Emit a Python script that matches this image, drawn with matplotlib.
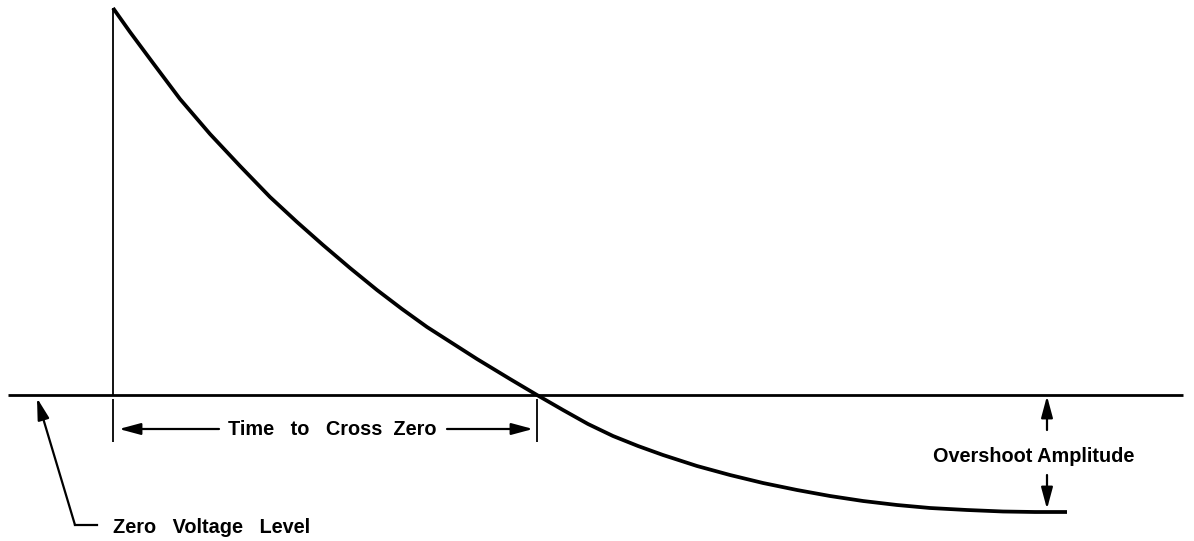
import matplotlib
matplotlib.use("Agg")
import matplotlib.pyplot as plt

# ===== DATA (time, voltage in drawing units; zero level = 0) =====
t_rise = 113
v_peak = 387
decay_t = [113, 130, 153, 180, 210, 240, 270, 297, 323, 350, 377, 402, 427, 452,
           477, 510, 537, 563, 588, 613, 638, 663, 697, 730, 763, 797, 830, 863,
           897, 930, 967, 1003, 1035, 1067]
decay_v = [387, 363, 332, 296, 261, 229, 198, 173, 150, 127, 105, 86, 68, 52,
           36, 16, 0, -15, -29, -41, -51, -60, -71, -80, -88, -95, -101, -106,
           -110, -113, -115, -116.5, -117, -117]
t_cross = 537
overshoot_t = 1047
overshoot_v = -116
zero_start, zero_end = 8, 1183

LBL_CROSS = "Time   to   Cross  Zero"
LBL_OVER = "Overshoot Amplitude"
LBL_ZERO = "Zero   Voltage   Level"

# ===== FIGURE =====
fig = plt.figure(figsize=(11.94, 5.41), dpi=100)
ax = fig.add_axes([0, 0, 1, 1])
ax.set_xlim(0, 1194)
ax.set_ylim(395 - 541, 395)
ax.axis("off")

fnt = dict(fontsize=14.3, fontweight="bold", family="Liberation Sans", color="black")
arr = dict(arrowstyle="-|>,head_length=1.3,head_width=0.35", color="black",
           lw=1.6, shrinkA=0, shrinkB=0)

# zero level and pulse
ax.plot([zero_start, zero_end], [0, 0], color="black", lw=2.0, solid_capstyle="butt")
ax.vlines(t_rise, 0, v_peak, color="black", lw=1.3)
ax.plot(decay_t, decay_v, color="black", lw=2.7, solid_joinstyle="round",
        solid_capstyle="butt")

# time to cross zero
ax.vlines([t_rise, t_cross], -4, -47, color="black", lw=1.3)
y_arr = -34
ax.text(228, -40, LBL_CROSS, ha="left", va="baseline", **fnt)
ax.annotate("", xy=(t_rise + 6, y_arr), xytext=(219, y_arr), arrowprops=arr)
ax.annotate("", xy=(t_cross - 4, y_arr), xytext=(447, y_arr), arrowprops=arr)

# overshoot amplitude
ax.text(933, -67, LBL_OVER, ha="left", va="baseline", **fnt)
ax.annotate("", xy=(overshoot_t, -1), xytext=(overshoot_t, -35), arrowprops=arr)
ax.annotate("", xy=(overshoot_t, overshoot_v + 2), xytext=(overshoot_t, -80), arrowprops=arr)

# zero voltage level pointer
ax.plot([97, 75], [-130, -130], color="black", lw=1.6)
ax.annotate("", xy=(37, -3), xytext=(75, -130), arrowprops=arr)
ax.text(113, -138, LBL_ZERO, ha="left", va="baseline", **fnt)

fig.savefig("out.png", dpi=100, facecolor="white")
